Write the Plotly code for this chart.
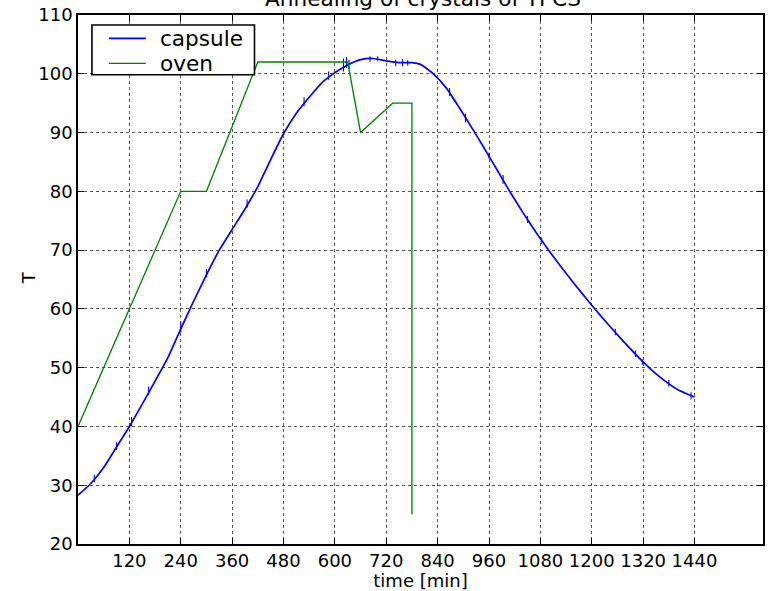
import plotly.graph_objects as go

# Oven set-point profile (time in minutes, temperature)
oven_t = [0, 240, 300, 360, 420, 630, 660, 735, 780, 780]
oven_T = [40, 80, 80, 91, 102, 102, 90, 95, 95, 25]

# Measured capsule temperature (smoothed trend)
capsule_t = [0, 30, 60, 90, 120, 150, 180, 210, 240, 270, 300, 330, 360, 390,
             420, 450, 480, 510, 540, 570, 600, 630, 660, 690, 720, 750, 780,
             800, 830, 860, 890, 920, 950, 980, 1010, 1040, 1070, 1100, 1130,
             1160, 1190, 1220, 1250, 1280, 1310, 1340, 1370, 1400, 1440]
capsule_T = [28.3, 30.3, 33.0, 36.5, 40.0, 43.8, 47.7, 51.7, 56.6, 61.3, 65.8,
             70.0, 73.5, 77.0, 80.8, 85.4, 89.8, 93.3, 96.0, 98.5, 100.2, 101.5,
             102.4, 102.6, 102.2, 101.9, 101.9, 101.6, 100.0, 97.6, 94.3, 90.8,
             87.2, 83.5, 79.8, 76.3, 73.0, 69.9, 67.0, 64.2, 61.5, 58.9, 56.4,
             54.0, 51.7, 49.6, 47.8, 46.3, 45.0]

# Short sensor glitches on the capsule reading: time, low and high value
glitch_t = [38, 90, 125, 165, 240, 300, 395, 528, 585, 620, 627, 633, 682, 700,
            742, 758, 770, 868, 905, 960, 993, 1050, 1082, 1255, 1302, 1318,
            1380, 1432]
glitch_lo = [30.5, 36.0, 40.0, 45.4, 56.0, 65.4, 77.2, 94.5, 99.0, 100.4, 101.0,
             100.8, 102.0, 102.2, 101.3, 101.3, 101.4, 96.2, 91.7, 85.6, 81.3,
             74.6, 71.0, 55.5, 51.8, 50.5, 46.8, 44.6]
glitch_hi = [31.8, 37.3, 41.6, 46.8, 57.8, 66.8, 78.6, 96.0, 100.4, 102.6, 102.8,
             102.4, 103.0, 103.0, 102.4, 102.5, 102.3, 97.6, 93.2, 86.6, 82.8,
             75.8, 72.2, 56.6, 52.9, 51.4, 47.9, 45.8]

x_ticks = [120, 240, 360, 480, 600, 720, 840, 960, 1080, 1200, 1320, 1440]
y_ticks = [20, 30, 40, 50, 60, 70, 80, 90, 100, 110]

series_names = ["capsule", "oven"]
series_colors = ["#0000ff", "#008000"]

FONT = "DejaVu Sans"

fig = go.Figure()
fig.add_trace(go.Scatter(x=capsule_t, y=capsule_T, mode="lines", name=series_names[0],
                         line=dict(color=series_colors[0], width=1.7, shape="spline", smoothing=0.5),
                         showlegend=False))

# Glitches drawn as short vertical strokes on the capsule curve
gx, gy = [], []
for t, lo, hi in zip(glitch_t, glitch_lo, glitch_hi):
    gx += [t, t, None]
    gy += [lo, hi, None]
fig.add_trace(go.Scatter(x=gx, y=gy, mode="lines", line=dict(color=series_colors[0], width=1.1),
                         showlegend=False, hoverinfo="skip"))

fig.add_trace(go.Scatter(x=oven_t, y=oven_T, mode="lines", name=series_names[1],
                         line=dict(color=series_colors[1], width=1.3),
                         showlegend=False))

axis_common = dict(
    showline=True, linecolor="black", linewidth=1.6, mirror="ticks",
    ticks="inside", ticklen=6, tickcolor="black", tickwidth=1,
    showgrid=True, gridcolor="#555555", griddash="dot", gridwidth=1,
    zeroline=False,
    tickfont=dict(family=FONT, size=18, color="black"),
)

fig.update_xaxes(range=[0, 1600], tickvals=x_ticks, ticktext=[str(v) for v in x_ticks],
                 title=dict(text="time [min]", font=dict(family=FONT, size=18, color="black"),
                            standoff=2),
                 **axis_common)
fig.update_yaxes(range=[20, 110], tickvals=y_ticks, ticktext=[str(v) for v in y_ticks],
                 **axis_common)


def px(x):
    return (x - 78) / 687.0


def py(y):
    return (544 - y) / 531.0


# Y-axis label
fig.add_annotation(text="T", xref="paper", yref="paper", x=px(28), y=py(277),
                   xanchor="center", yanchor="middle", textangle=-90, showarrow=False,
                   font=dict(family=FONT, size=18, color="black"))

# Title sits high, partly above the page
fig.add_annotation(text="Annealing of crystals of YPCS", xref="paper", yref="paper",
                   x=0.503, y=1.0313, xanchor="center", yanchor="middle", showarrow=False,
                   font=dict(family=FONT, size=21.6, color="black"))

# Legend box in the upper left corner of the axes
fig.add_shape(type="rect", xref="paper", yref="paper",
              x0=px(92), x1=px(255), y0=py(73), y1=py(23),
              line=dict(color="black", width=1.6), fillcolor="white", layer="above")
for i, (name, color) in enumerate(zip(series_names, series_colors)):
    yc = 36.5 + 25 * i
    fig.add_shape(type="line", xref="paper", yref="paper",
                  x0=px(109), x1=px(146), y0=py(yc), y1=py(yc),
                  line=dict(color=color, width=1.7 if i == 0 else 1.3), layer="above")
    fig.add_annotation(text=name, xref="paper", yref="paper",
                       x=px(158), y=py(yc), xanchor="left", yanchor="middle", showarrow=False,
                       font=dict(family=FONT, size=21.6, color="black"))

fig.update_layout(
    width=769, height=591,
    margin=dict(l=78, r=4, t=13, b=47),
    plot_bgcolor="white", paper_bgcolor="white",
    showlegend=False,
)

fig.write_html("out.html")
